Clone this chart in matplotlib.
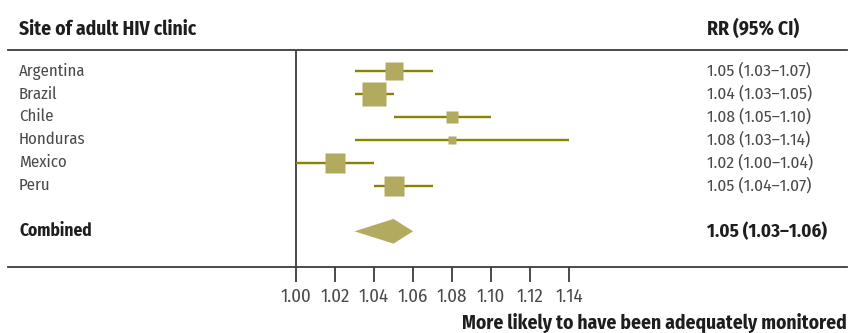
import matplotlib
matplotlib.use("Agg")
import matplotlib.pyplot as plt
from matplotlib.patches import Polygon
import matplotlib.transforms as mtransforms
import numpy as np

# ---- data -------------------------------------------------------------
sites = ["Argentina", "Brazil", "Chile", "Honduras", "Mexico", "Peru"]
rr = [1.05, 1.04, 1.08, 1.08, 1.02, 1.05]
ci_low = [1.03, 1.03, 1.05, 1.03, 1.00, 1.04]
ci_high = [1.07, 1.05, 1.10, 1.14, 1.04, 1.07]
weights = [17.5, 31.1, 9.1, 3.5, 19.5, 19.5]  # relative study weight (%)

combined_label = "Combined"
combined_rr = 1.05
combined_low = 1.03
combined_high = 1.06

xticks = [1.00, 1.02, 1.04, 1.06, 1.08, 1.10, 1.12, 1.14]

# ---- style ------------------------------------------------------------
plt.rcParams["font.family"] = ["Fira Sans Condensed", "Barlow Condensed", "DejaVu Sans"]
BOX = "#b2ab5f"
WHISKER = "#8a8200"
TEXT = "#4a4a4a"
DARK = "#1e1e1e"
RULE = "#3c3c3c"

W, H, DPI = 851, 333, 100
fig = plt.figure(figsize=(W / DPI, H / DPI), dpi=DPI)

# axes spans the full width between the two rules
left_px, right_px, top_px, bot_px = 8, 847, 50, 267
ax = fig.add_axes([left_px / W, 1 - bot_px / H,
                   (right_px - left_px) / W, (bot_px - top_px) / H])

# x scale: 1.00 sits at pixel 296, 1.14 at pixel 569
px_per_unit = (569 - 296) / 0.14
x0 = 1.00 - (296 - left_px) / px_per_unit
x1 = 1.00 + (right_px - 296) / px_per_unit
ax.set_xlim(x0, x1)

# y scale: one unit per row, first row near pixel 71, rows 23 px apart
row_px, first_px = 22.9, 71
ax.set_ylim((bot_px - first_px) / row_px, (top_px - first_px) / row_px)

rows = np.arange(len(sites))
combined_row = len(sites) + 1

# confidence intervals and weighted boxes
for y, est, lo, hi, w in zip(rows, rr, ci_low, ci_high, weights):
    ax.plot([lo, hi], [y, y], color=WHISKER, lw=1.7, solid_capstyle="butt", zorder=2)
    ax.plot(est, y, marker="s", ms=3.1 * np.sqrt(w), mfc=BOX, mec="none",
            ls="none", zorder=3)

# pooled estimate diamond
half_h = 0.54
ax.add_patch(Polygon([[combined_low, combined_row], [combined_rr, combined_row - half_h],
                      [combined_high, combined_row], [combined_rr, combined_row + half_h]],
                     closed=True, facecolor=BOX, edgecolor="none", zorder=3))

# reference line at RR = 1
ax.axvline(1.00, color=RULE, lw=1.3, zorder=1)

# frame: only top and bottom rules
for side in ("left", "right"):
    ax.spines[side].set_visible(False)
for side in ("top", "bottom"):
    ax.spines[side].set_color(RULE)
    ax.spines[side].set_linewidth(1.3)

ax.set_yticks([])
ax.set_xticks(xticks)
ax.set_xticklabels([f"{t:.2f}" for t in xticks], fontsize=13.5, color=TEXT)
ax.tick_params(axis="x", direction="out", length=11, width=1.3, color=RULE, pad=4)

# row labels and RR text columns
lab_tf = mtransforms.blended_transform_factory(fig.transFigure, ax.transData)
for y, name, est, lo, hi in zip(rows, sites, rr, ci_low, ci_high):
    ax.text(19 / W, y, name, transform=lab_tf, fontsize=12, color=TEXT,
            ha="left", va="center")
    ax.text(707 / W, y, f"{est:.2f} ({lo:.2f}\u2013{hi:.2f})", transform=lab_tf,
            fontsize=12.5, color=TEXT, ha="left", va="center")

ax.text(19 / W, combined_row, combined_label, transform=lab_tf, fontsize=12.5,
        fontweight="bold", color=DARK, ha="left", va="center")
ax.text(707 / W, combined_row,
        f"{combined_rr:.2f} ({combined_low:.2f}\u2013{combined_high:.2f})",
        transform=lab_tf, fontsize=13.5, fontweight="bold", color=DARK,
        ha="left", va="center")

# column headers
fig.text(19 / W, 1 - 29 / H, "Site of adult HIV clinic", fontsize=14,
         fontweight="bold", color=DARK, ha="left", va="center")
fig.text(707 / W, 1 - 29 / H, "RR (95% CI)", fontsize=14,
         fontweight="bold", color=DARK, ha="left", va="center")

# axis caption
fig.text(847 / W, 1 - 323 / H, "More likely to have been adequately monitored",
         fontsize=14, fontweight="bold", color=DARK, ha="right", va="center")

fig.savefig("out.png", dpi=DPI)
